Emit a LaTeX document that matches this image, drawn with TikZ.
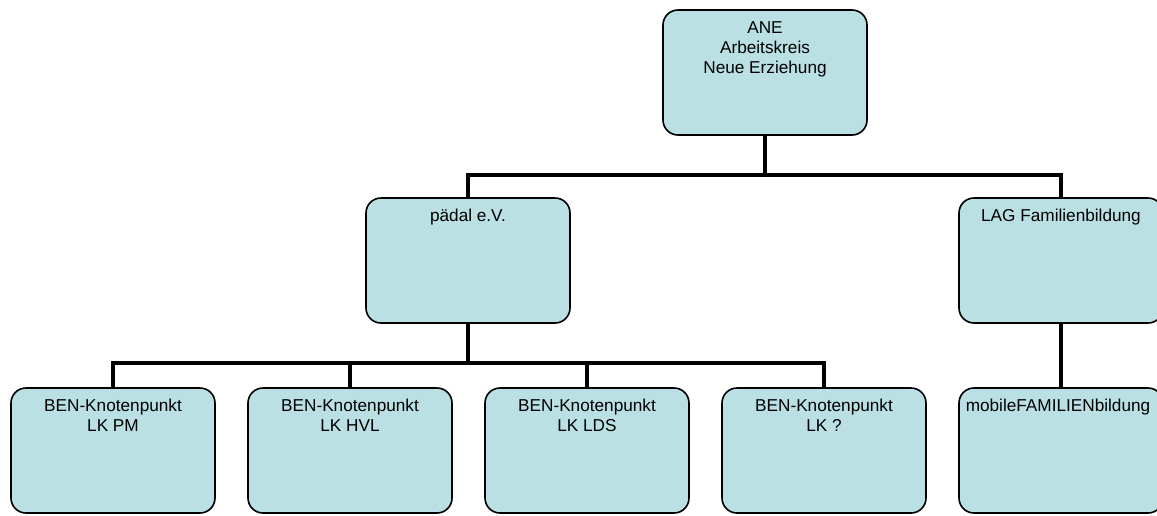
\documentclass[tikz,border=0pt]{standalone}
\usepackage{fontspec}
\setmainfont{Liberation Sans}
\usetikzlibrary{backgrounds}
\definecolor{boxfill}{RGB}{186,224,228}
\begin{document}
\begin{tikzpicture}[x=1pt,y=-1pt,
  box/.style={draw=black, line width=1.6pt, fill=boxfill, rounded corners=15pt,
    minimum width=204pt, minimum height=125pt, inner sep=0pt, outer sep=0pt, anchor=north west},
  lbl/.style={font=\fontsize{17.2}{20}\selectfont, align=center, anchor=north, inner sep=0pt},
  conn/.style={line width=4.8pt}]
\useasboundingbox (0,0) rectangle (1157,515);
% boxes
\node[box] (ane) at (663,10) {};
\node[box] (paedal) at (366,198) {};
\node[box] (lag) at (959,198) {};
\node[box] (k1) at (11,388) {};
\node[box] (k2) at (248,388) {};
\node[box] (k3) at (485,388) {};
\node[box] (k4) at (722,388) {};
\node[box] (mob) at (959,388) {};
\coordinate (topbus) at (765,175);
\coordinate (botbus) at (468,363);
% connectors
\begin{scope}[on background layer]
\draw[conn] (ane.south) -- (topbus);
\draw[conn] (paedal.north) |- (topbus) -| (lag.north);
\draw[conn] (paedal.south) -- (botbus);
\draw[conn] (k1.north) |- (botbus) -| (k4.north);
\draw[conn] (k2.north) -- (k2.north |- botbus);
\draw[conn] (k3.north) -- (k3.north |- botbus);
\draw[conn] (lag.south) -- (mob.north);
\end{scope}
% labels
\node[lbl] (tane) at ([yshift=-11pt]ane.north) {ANE\\Arbeitskreis\\Neue Erziehung};
\node[lbl] (tpaedal) at ([yshift=-11pt]paedal.north) {pädal e.V.};
\node[lbl] (tlag) at ([yshift=-11pt]lag.north) {LAG Familienbildung};
\node[lbl] (tk1) at ([yshift=-11pt]k1.north) {BEN-Knotenpunkt\\LK PM};
\node[lbl] (tk2) at ([yshift=-11pt]k2.north) {BEN-Knotenpunkt\\LK HVL};
\node[lbl] (tk3) at ([yshift=-11pt]k3.north) {BEN-Knotenpunkt\\LK LDS};
\node[lbl] (tk4) at ([yshift=-11pt]k4.north) {BEN-Knotenpunkt\\LK ?};
\node[lbl] (tmob) at ([yshift=-11pt,xshift=-3pt]mob.north) {mobileFAMILIENbildung};
\end{tikzpicture}
\end{document}
